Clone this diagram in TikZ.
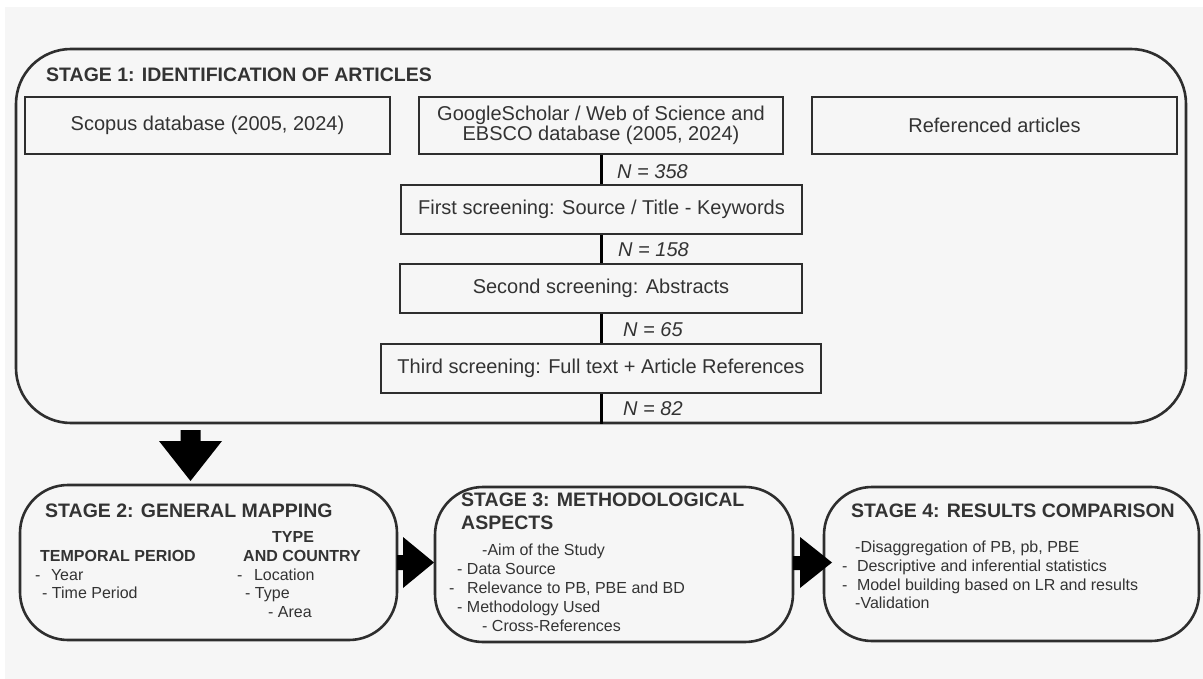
\documentclass[tikz,border=0pt]{standalone}
\usepackage{fontspec}
\setmainfont{Liberation Sans}
\definecolor{bg}{HTML}{F6F6F6}
\definecolor{ink}{HTML}{333333}
\definecolor{edge}{HTML}{2E2E2E}
\begin{document}
\begin{tikzpicture}[x=1pt,y=-1pt,
  frame/.style={draw=edge, line width=2.6pt, rounded corners=55pt, inner sep=0pt},
  stagebox/.style={draw=edge, line width=2.6pt, rounded corners=48pt, inner sep=0pt,
    minimum height=155pt},
  srcbox/.style={draw=edge, line width=2.8pt, inner sep=0pt, minimum height=57pt,
    text=ink, align=center, font=\fontsize{20}{17.5}\selectfont},
  screenbox/.style={draw=edge, line width=2.8pt, inner sep=0pt, minimum height=49pt,
    text=ink, font=\fontsize{20}{22}\selectfont},
  flow/.style={draw=black, line width=3pt},
  count/.style={anchor=base west, inner sep=0pt, text=ink,
    font=\fontsize{20}{22}\selectfont\itshape},
  title/.style={anchor=base west, inner sep=0pt, text=ink,
    font=\fontsize{19.5}{23}\selectfont\bfseries},
  subhead/.style={anchor=base west, inner sep=0pt, text=ink,
    font=\fontsize{16}{18}\selectfont\bfseries},
  item/.style={anchor=base west, inner sep=0pt, text=ink,
    font=\fontsize{16}{18}\selectfont},
  blockarrow/.style={fill=black, draw=none}]

% canvas
\fill[white] (0,0) rectangle (1203,679);
\fill[bg] (5,7) rectangle (1203,679);
\useasboundingbox (0,0) rectangle (1203,679);

% ---------- stage 1 ----------
\node[frame, minimum width=1170pt, minimum height=374pt] (stage1) at (601,236) {};
\node[title] (t1) at (46,82) {STAGE 1: IDENTIFICATION OF ARTICLES};

\node[srcbox, minimum width=365pt] (scopus) at (207.5,125.5) {Scopus database (2005, 2024)};
\node[srcbox, minimum width=364pt] (google) at (601,125.5)
  {GoogleScholar / Web of Science and\\EBSCO database (2005, 2024)};
\node[srcbox, minimum width=365pt] (refs) at (994.5,125.5) {Referenced articles};

\node[screenbox, minimum width=401pt] (first) at (601.5,209.5)
  {First screening: Source / Title - Keywords};
\node[screenbox, minimum width=402pt] (second) at (601,288.5)
  {Second screening: Abstracts};
\node[screenbox, minimum width=440pt] (third) at (601,368.5)
  {Third screening: Full text + Article References};

\draw[flow] (google.south) -- (google.south |- first.north);
\draw[flow] (first.south -| google.south) -- (google.south |- second.north);
\draw[flow] (second.south -| google.south) -- (google.south |- third.north);
\draw[flow] (third.south -| google.south) -- (google.south |- stage1.south);

\node[count] (n1) at (617,179) {N = 358};
\node[count] (n2) at (618,257) {N = 158};
\node[count] (n3) at (623,336) {N = 65};
\node[count] (n4) at (623,415) {N = 82};

% ---------- stage 2 ----------
\node[stagebox, minimum width=377pt] (stage2) at (208.5,562.5) {};
\node[title] at (45,517) {STAGE 2: GENERAL MAPPING};
\node[subhead] at (272,542) {TYPE};
\node[subhead] at (40,561) {TEMPORAL PERIOD};
\node[subhead] at (243,561) {AND COUNTRY};
\node[item] at (35,580) {-\hspace{10.5pt}Year};
\node[item] at (42,598) {- Time Period};
\node[item] at (237,580) {-\hspace{11.5pt}Location};
\node[item] at (245,598) {- Type};
\node[item] at (268,617) {- Area};

% ---------- stage 3 ----------
\node[stagebox, minimum width=358pt] (stage3) at (614,564.5) {};
\node[title] at (461,506) {STAGE 3: METHODOLOGICAL};
\node[title] at (461,529) {ASPECTS};
\node[item] at (482,555) {-Aim of the Study};
\node[item] at (457,574) {- Data Source};
\node[item] at (449,593) {-\hspace{12.5pt}Relevance to PB, PBE and BD};
\node[item] at (457,612) {- Methodology Used};
\node[item] at (482,631) {- Cross-References};

% ---------- stage 4 ----------
\node[stagebox, minimum width=375pt, minimum height=154pt] (stage4) at (1011.5,564) {};
\node[title] at (851,517) {STAGE 4: RESULTS COMPARISON};
\node[item] at (855,552) {-Disaggregation of PB, pb, PBE};
\node[item] at (842,571) {-\hspace{9.5pt}Descriptive and inferential statistics};
\node[item] at (842,590) {-\hspace{9.5pt}Model building based on LR and results};
\node[item] at (855,608) {-Validation};

% ---------- block arrows between stages ----------
\fill[blockarrow] (180.5,430) -- (200.5,430) -- (200.5,441) -- (222,441)
  -- (190.5,481) -- (159,441) -- (180.5,441) -- cycle;
\fill[blockarrow] (397,555) -- (403,555) -- (403,537) -- (434,562.5)
  -- (403,588) -- (403,570) -- (397,570) -- cycle;
\fill[blockarrow] (793,556) -- (800,556) -- (800,537) -- (832,562.5)
  -- (800,588) -- (800,570) -- (793,570) -- cycle;
\end{tikzpicture}
\end{document}
